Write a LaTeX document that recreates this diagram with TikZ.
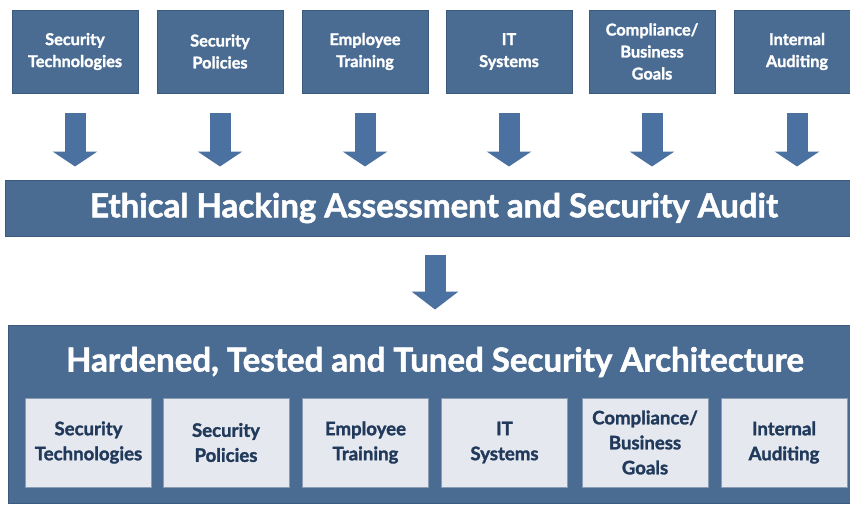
\documentclass[tikz,border=0pt]{standalone}
\usepackage{fontspec}
\setmainfont{Lato}[BoldFont={Lato Bold}, BoldFeatures={FakeBold=1.6}]
\usetikzlibrary{arrows.meta,calc}
\definecolor{boxblue}{HTML}{4A6C93}
\definecolor{edgeblue}{HTML}{3C5A7E}
\definecolor{arrowblue}{HTML}{4A71A0}
\definecolor{innerfill}{HTML}{E5E9EF}
\definecolor{innertext}{HTML}{21395A}
\tikzset{
  topbox/.style={fill=boxblue, draw=edgeblue, line width=0.8pt, minimum width=126pt, minimum height=83pt,
    text=white, font=\fontsize{16.3}{22}\selectfont\bfseries, align=center, inner sep=0pt},
  innerbox/.style={fill=innerfill, draw=edgeblue!60, line width=0.6pt, minimum width=126pt, minimum height=89pt,
    text=innertext, font=\fontsize{18.6}{25}\selectfont\bfseries, align=center, inner sep=0pt},
  barbox/.style={fill=boxblue, draw=edgeblue, line width=1pt, inner sep=0pt},
  titletext/.style={text=white, font=\fontsize{33}{36}\selectfont\bfseries, inner sep=0pt},
  blockarrow/.style={draw=arrowblue, line width=21pt,
    -{Triangle[width=44pt,length=15pt]}, shorten >=0pt}
}
\begin{document}
\begin{tikzpicture}[x=1pt,y=-1pt]
\useasboundingbox (0,0) rectangle (850,506);
\clip (0,0) rectangle (850,506);
\fill[white] (0,0) rectangle (850,506);
% top boxes
\node[topbox] (t1) at (75,51.5) {Security\\Technologies};
\node[topbox] (t2) at (220,51.5) {Security\\Policies};
\node[topbox] (t3) at (365,51.5) {Employee\\Training};
\node[topbox] (t4) at (509,51.5) {IT\\Systems};
\node[topbox] (t5) at (652,51.5) {Compliance/\\Business\\Goals};
\node[topbox] (t6) at (797,51.5) {Internal\\Auditing};
% ethical bar
\node[barbox, minimum width=850pt, minimum height=56pt] (audit) at (430,208) {};
\node[titletext] (audittxt) at (434,208) {Ethical Hacking Assessment and Security Audit};
% arrows top -> bar
\foreach \i in {1,...,6}{
  \draw[blockarrow] ($(t\i.south)+(0,20)$) -- ($(t\i.south |- audit.north)+(0,-13)$);
}
% outer box
\node[barbox, minimum width=860pt, minimum height=178pt] (arch) at (438,414) {};
\node[titletext] (archtxt) at (435,362) {Hardened, Tested and Tuned Security Architecture};
% middle arrow
\draw[blockarrow, -{Triangle[width=46pt,length=18pt]}] ($(audit.south)+(5,18)$) coordinate (ma) -- ($(ma |- arch.north)+(0,-15)$);
% inner boxes
\node[innerbox] (b1) at (88.5,442.5) {Security\\Technologies};
\node[innerbox] (b2) at (226,442.5) {Security\\Policies};
\node[innerbox] (b3) at (365.5,442.5) {Employee\\Training};
\node[innerbox] (b4) at (504.5,442.5) {IT\\Systems};
\node[innerbox] (b5) at (645,442.5) {Compliance/\\Business\\Goals};
\node[innerbox] (b6) at (784,442.5) {Internal\\Auditing};
\end{tikzpicture}
\end{document}
